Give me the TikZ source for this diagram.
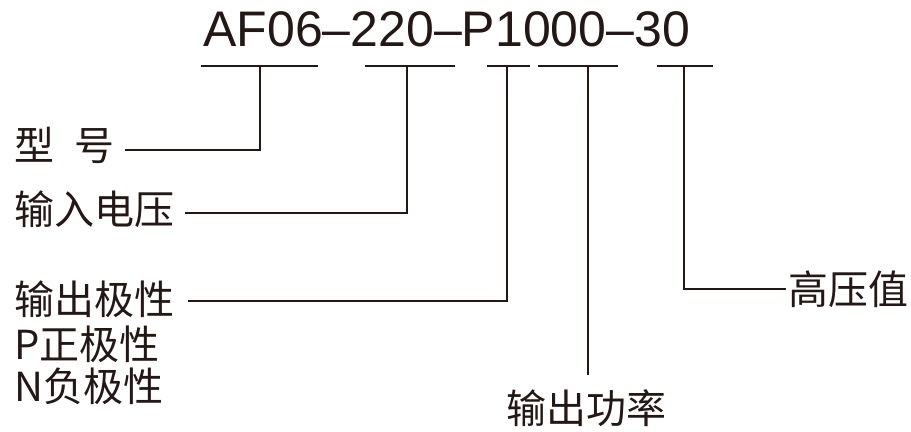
\documentclass[tikz,border=0pt]{standalone}
\usepackage{fontspec}
\setmainfont{Liberation Sans}
\newfontfamily\cjk{Noto Sans CJK SC}
\usepackage{xcolor}
\usepackage{tikz}
\usetikzlibrary{calc}
\definecolor{inkblack}{HTML}{231815}
\tikzset{
  partname/.style={font=\cjk\fontsize{20}{24}\selectfont, text=inkblack, inner sep=0pt},
  lead/.style={draw=inkblack, line width=1.2pt, shorten >=5pt},
  underbar/.style={draw=inkblack, line width=1.4pt}
}

\begin{document}
\begin{tikzpicture}[x=0.5pt, y=-0.5pt]
  \useasboundingbox (0,0) rectangle (911,432);
  % model code
  \node[font=\fontsize{25}{30}\selectfont, text=inkblack, inner sep=0pt, anchor=base west] (code) at (203,47) {AF06–220–P1000–30};
  % underlines and their ticks
  \coordinate (t1) at (260,66);
  \coordinate (t2) at (407,66);
  \coordinate (t3) at (507,66);
  \coordinate (t4) at (588,66);
  \coordinate (t5) at (684,66);
  \draw[underbar] (201,66) -- (318,66);
  \draw[underbar] (365,66) -- (455,66);
  \draw[underbar] (487,66) -- (530,66);
  \draw[underbar] (538,66) -- (618,66);
  \draw[underbar] (657,66) -- (713,66);
  % labels
  \node[partname, anchor=west] (model) at (14,145) {型\hspace{0.5em}号};
  \node[partname, anchor=west] (voltin) at (14,209) {输入电压};
  \node[partname, anchor=west] (polar) at (14,299) {输出极性};
  \node[partname, anchor=base west] (polp) at (14,360) {P正极性};
  \node[partname, anchor=base west] (poln) at (14,402) {N负极性};
  \node[partname, anchor=base west] (power) at (506,424) {输出功率};
  \node[partname, anchor=west] (hv) at (788,289) {高压值};
  % leads
  \draw[lead] (t1) |- ([yshift=-2.5pt]model.east);
  \draw[lead] (t2) |- ([yshift=-2pt]voltin.east);
  \draw[lead, shorten >=6.5pt] (t3) |- ([yshift=-1pt]polar.east);
  \draw[lead, shorten >=7.5pt] (t4) -- (t4 |- power.north);
  \draw[lead, shorten >=1pt] (t5) |- (hv.west);
\end{tikzpicture}
\end{document}
